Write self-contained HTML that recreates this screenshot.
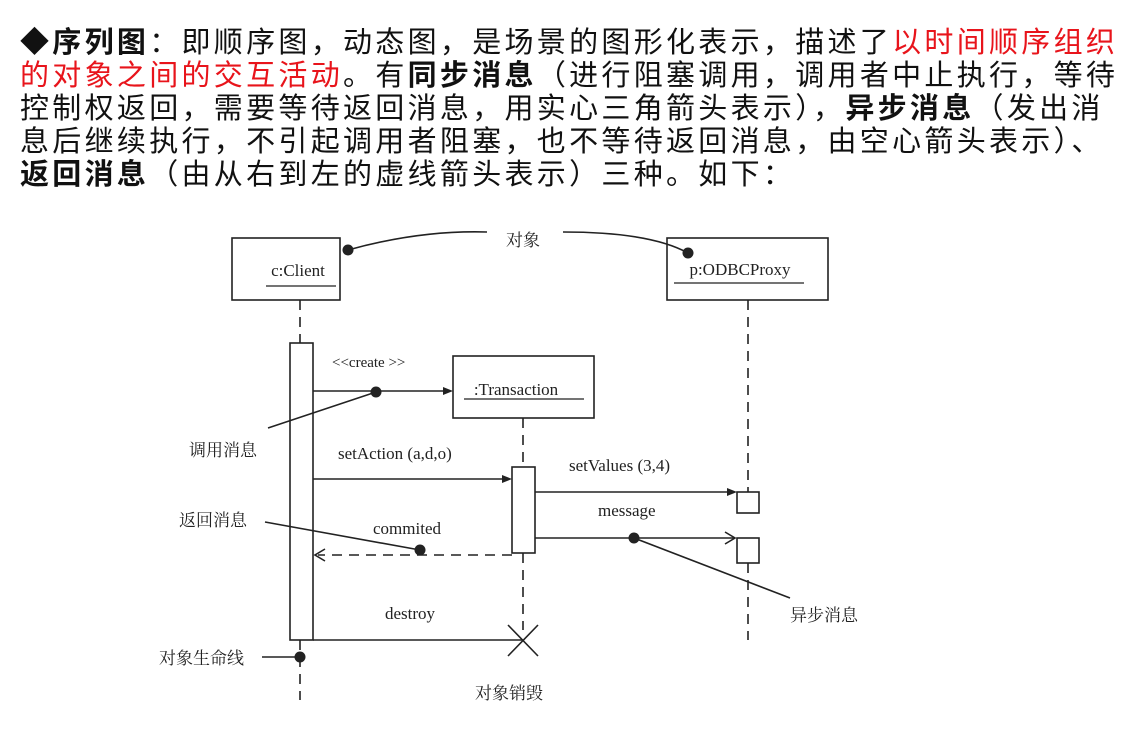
<!DOCTYPE html>
<html><head><meta charset="utf-8"><style>
html,body{margin:0;padding:0;background:#fff;width:1145px;height:748px;overflow:hidden}
.t{position:absolute;left:20px;top:27px;font-family:"Liberation Sans","Noto Sans CJK SC",sans-serif;font-size:29px;line-height:33px;letter-spacing:3.3px;color:#111;white-space:nowrap}
.r{color:#e8141b}
b{font-weight:bold}
svg{position:absolute;left:0;top:0}
</style></head><body>
<div class="t">
<div><b>◆序列图</b>：即顺序图，动态图，是场景的图形化表示，描述了<span class="r">以时间顺序组织</span></div>
<div><span class="r">的对象之间的交互活动</span>。有<b>同步消息</b>（进行阻塞调用，调用者中止执行，等待</div>
<div>控制权返回，需要等待返回消息，用实心三角箭头表示），<b>异步消息</b>（发出消</div>
<div>息后继续执行，不引起调用者阻塞，也不等待返回消息，由空心箭头表示）、</div>
<div><b>返回消息</b>（由从右到左的虚线箭头表示）三种。如下：</div>
</div>
<svg width="1145" height="748" viewBox="0 0 1145 748" font-family="Liberation Serif, Noto Serif CJK SC, serif" fill="#222">
<g stroke="#222" stroke-width="1.6" fill="none">
<rect x="232" y="238" width="108" height="62"/>
<rect x="667" y="238" width="161" height="62"/>
<rect x="453" y="356" width="141" height="62"/>
<g stroke-dasharray="10,7">
<line x1="300" y1="300" x2="300" y2="343"/>
<line x1="300" y1="640" x2="300" y2="700"/>
<line x1="523" y1="418" x2="523" y2="467"/>
<line x1="523" y1="553" x2="523" y2="630"/>
<line x1="748" y1="300" x2="748" y2="492"/>
<line x1="748" y1="563" x2="748" y2="640"/>
<line x1="512" y1="555" x2="318" y2="555"/>
</g>
<rect x="290" y="343" width="23" height="297" fill="#fff"/>
<rect x="512" y="467" width="23" height="86" fill="#fff"/>
<rect x="737" y="492" width="22" height="21" fill="#fff"/>
<rect x="737" y="538" width="22" height="25" fill="#fff"/>
<line x1="313" y1="391" x2="445" y2="391"/>
<line x1="313" y1="479" x2="504" y2="479"/>
<line x1="535" y1="492" x2="729" y2="492"/>
<line x1="535" y1="538" x2="735" y2="538"/>
<polyline points="725,532 735,538 725,544"/>
<polyline points="325,549 315,555 325,561"/>
<line x1="313" y1="640" x2="523" y2="640"/>
<line x1="508" y1="625" x2="538" y2="656"/>
<line x1="538" y1="625" x2="508" y2="656"/>
<line x1="268" y1="428" x2="376" y2="392"/>
<line x1="265" y1="522" x2="420" y2="550"/>
<line x1="634" y1="538" x2="790" y2="598"/>
<line x1="262" y1="657" x2="300" y2="657"/>
<path d="M348,250 Q420,230 487,232"/>
<path d="M563,232 Q650,232 688,253"/>
<line x1="266" y1="286" x2="336" y2="286" stroke-width="1.2"/>
<line x1="674" y1="283" x2="804" y2="283" stroke-width="1.2"/>
<line x1="464" y1="399" x2="584" y2="399" stroke-width="1.2"/>
</g>
<polygon points="453,391 443,387 443,395"/>
<polygon points="512,479 502,475 502,483"/>
<polygon points="737,492 727,488 727,496"/>
<circle cx="348" cy="250" r="5.5"/><circle cx="688" cy="253" r="5.5"/>
<circle cx="376" cy="392" r="5.5"/><circle cx="420" cy="550" r="5.5"/>
<circle cx="634" cy="538" r="5.5"/><circle cx="300" cy="657" r="5.5"/>
<g font-size="17">
<text x="298" y="276" text-anchor="middle">c:Client</text>
<text x="740" y="275" text-anchor="middle">p:ODBCProxy</text>
<text x="516" y="395" text-anchor="middle">:Transaction</text>
<text x="332" y="367" font-size="15">&lt;&lt;create &gt;&gt;</text>
<text x="338" y="459">setAction  (a,d,o)</text>
<text x="569" y="471">setValues  (3,4)</text>
<text x="598" y="516">message</text>
<text x="373" y="534">commited</text>
<text x="385" y="619">destroy</text>
<text x="506" y="246">对象</text>
<text x="189" y="456">调用消息</text>
<text x="179" y="526">返回消息</text>
<text x="790" y="621">异步消息</text>
<text x="159" y="664">对象生命线</text>
<text x="475" y="699">对象销毁</text>
</g>
</svg>
</body></html>
